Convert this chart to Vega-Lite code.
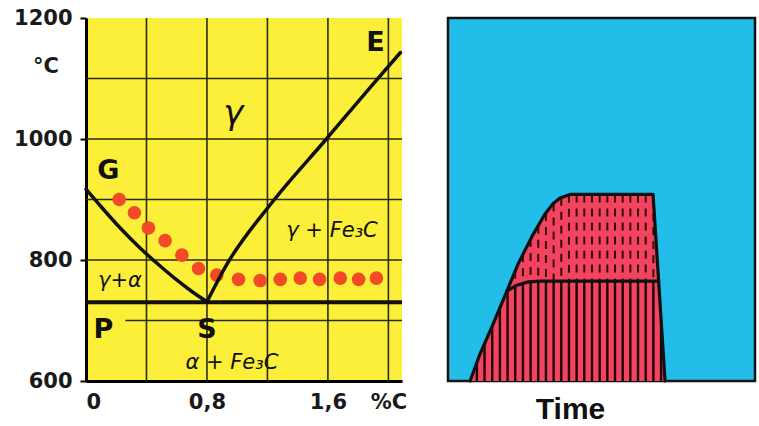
{
  "$schema": "https://vega.github.io/schema/vega-lite/v6.json",
  "padding": {"left": 13, "top": 7, "right": 0, "bottom": 0},
  "background": "white",
  "spacing": 46,
  "bounds": "flush",
  "config": {"view": {"stroke": null}},
  "hconcat": [
    {
      "width": 316,
      "height": 363,
      "view": {"fill": "#fcef3a", "stroke": null},
      "layer": [
        {
          "data": {"values": [
            {"c": 0.26, "c2": 2.09, "t": 700, "t2": 700},
            {"c": 0, "c2": 2.09, "t": 800, "t2": 800},
            {"c": 0, "c2": 2.09, "t": 900, "t2": 900},
            {"c": 0, "c2": 2.09, "t": 1000, "t2": 1000},
            {"c": 0, "c2": 2.09, "t": 1100, "t2": 1100},
            {"c": 0.4, "c2": 0.4, "t": 600, "t2": 1200},
            {"c": 0.8, "c2": 0.8, "t": 600, "t2": 1200},
            {"c": 1.2, "c2": 1.2, "t": 600, "t2": 1200},
            {"c": 1.6, "c2": 1.6, "t": 600, "t2": 1200},
            {"c": 2.0, "c2": 2.0, "t": 600, "t2": 1200}
          ]},
          "mark": {"type": "rule", "color": "#2a2a10", "strokeWidth": 1.6},
          "encoding": {
            "x": {"field": "c", "type": "quantitative", "title": null,
              "scale": {"domain": [0, 2.09], "nice": false, "zero": false},
              "axis": {"values": [0, 0.8, 1.6, 2.0], "labelExpr": "datum.value == 2 ? '%C' : (datum.value == 0 ? '0' : replace(datum.label, '.', ','))",
                "ticks": false, "grid": false, "domainColor": "black", "domainWidth": 3, "labelPadding": 10,
                "labelFont": "DejaVu Sans", "labelFontWeight": "bold", "labelFontSize": 21, "labelColor": "#1a1a1a"}},
            "x2": {"field": "c2"},
            "y": {"field": "t", "type": "quantitative", "title": null,
              "scale": {"domain": [600, 1200], "nice": false, "zero": false},
              "axis": {"values": [600, 800, 1000, 1200], "format": "d", "grid": false, "tickSize": 6, "tickWidth": 2, "tickColor": "black",
                "domainColor": "black", "domainWidth": 3, "labelPadding": 8,
                "labelFont": "DejaVu Sans", "labelFontWeight": "bold", "labelFontSize": 21, "labelColor": "#1a1a1a"}},
            "y2": {"field": "t2"}
          }
        },
        {
          "data": {"values": [
            {"c": 0.22, "t": 900}, {"c": 0.32, "t": 878}, {"c": 0.413, "t": 853},
            {"c": 0.523, "t": 832}, {"c": 0.634, "t": 808}, {"c": 0.744, "t": 786},
            {"c": 0.865, "t": 775}, {"c": 1.009, "t": 768}, {"c": 1.152, "t": 766},
            {"c": 1.285, "t": 768}, {"c": 1.417, "t": 770}, {"c": 1.545, "t": 768},
            {"c": 1.682, "t": 770}, {"c": 1.803, "t": 768}, {"c": 1.921, "t": 770}
          ]},
          "mark": {"type": "circle", "size": 185, "color": "#f24a26", "opacity": 1},
          "encoding": {
            "x": {"field": "c", "type": "quantitative", "title": null},
            "y": {"field": "t", "type": "quantitative", "title": null}
          }
        },
        {
          "data": {"values": [
            {"c": 0, "c2": 2.09, "t": 730, "t2": 730}
          ]},
          "mark": {"type": "rule", "color": "#111", "strokeWidth": 4},
          "encoding": {
            "x": {"field": "c", "type": "quantitative", "title": null},
            "x2": {"field": "c2"},
            "y": {"field": "t", "type": "quantitative", "title": null},
            "y2": {"field": "t2"}
          }
        },
        {
          "data": {"values": [
            {"seg": "GS", "c": 0, "t": 917}, {"seg": "GS", "c": 0.1, "t": 888},
            {"seg": "GS", "c": 0.2, "t": 860}, {"seg": "GS", "c": 0.3, "t": 834},
            {"seg": "GS", "c": 0.4, "t": 810}, {"seg": "GS", "c": 0.5, "t": 788},
            {"seg": "GS", "c": 0.6, "t": 767}, {"seg": "GS", "c": 0.7, "t": 748},
            {"seg": "GS", "c": 0.8, "t": 731},
            {"seg": "SE", "c": 0.8, "t": 731}, {"seg": "SE", "c": 0.92, "t": 788},
            {"seg": "SE", "c": 1.23, "t": 895}, {"seg": "SE", "c": 1.59, "t": 1000},
            {"seg": "SE", "c": 1.92, "t": 1097}, {"seg": "SE", "c": 2.08, "t": 1143}
          ]},
          "mark": {"type": "line", "color": "#111", "strokeWidth": 3.5, "strokeCap": "round", "strokeJoin": "round", "interpolate": "monotone"},
          "encoding": {
            "x": {"field": "c", "type": "quantitative", "title": null},
            "y": {"field": "t", "type": "quantitative", "title": null},
            "detail": {"field": "seg"}
          }
        },
        {
          "data": {"values": [
            {"label": "G", "c": 0.148, "t": 947},
            {"label": "E", "c": 1.914, "t": 1159},
            {"label": "P", "c": 0.115, "t": 685},
            {"label": "S", "c": 0.8, "t": 685}
          ]},
          "mark": {"type": "text", "font": "DejaVu Sans", "fontWeight": "bold", "fontSize": 27, "color": "#111", "baseline": "middle", "align": "center"},
          "encoding": {
            "x": {"field": "c", "type": "quantitative", "title": null},
            "y": {"field": "t", "type": "quantitative", "title": null},
            "text": {"field": "label"}
          }
        },
        {
          "data": {"values": [
            {"label": "°C", "c": -0.265, "t": 1119}
          ]},
          "mark": {"type": "text", "font": "DejaVu Sans", "fontWeight": "bold", "fontSize": 21, "color": "#1a1a1a", "baseline": "middle", "align": "center"},
          "encoding": {
            "x": {"field": "c", "type": "quantitative", "title": null},
            "y": {"field": "t", "type": "quantitative", "title": null},
            "text": {"field": "label"}
          }
        },
        {
          "data": {"values": [
            {"label": "γ", "c": 0.975, "t": 1041}
          ]},
          "mark": {"type": "text", "font": "DejaVu Sans", "fontStyle": "italic", "fontSize": 34, "color": "#111", "baseline": "middle", "align": "center"},
          "encoding": {
            "x": {"field": "c", "type": "quantitative", "title": null},
            "y": {"field": "t", "type": "quantitative", "title": null},
            "text": {"field": "label"}
          }
        },
        {
          "data": {"values": [
            {"label": "γ + Fe₃C", "c": 1.627, "t": 848},
            {"label": "γ+α", "c": 0.225, "t": 765},
            {"label": "α + Fe₃C", "c": 0.965, "t": 630}
          ]},
          "mark": {"type": "text", "font": "DejaVu Sans", "fontStyle": "italic", "fontSize": 21, "color": "#111", "baseline": "middle", "align": "center"},
          "encoding": {
            "x": {"field": "c", "type": "quantitative", "title": null},
            "y": {"field": "t", "type": "quantitative", "title": null},
            "text": {"field": "label"}
          }
        }
      ]
    },
    {
      "width": 307,
      "height": 363,
      "view": {"fill": "#22bde9", "stroke": "#111", "strokeWidth": 2.5},
      "layer": [
        {
          "data": {"values": [
            {"tx": 7.2, "hy": 0}, {"tx": 10.4, "hy": 7.4}, {"tx": 14.7, "hy": 15.7},
            {"tx": 19.2, "hy": 24.8}, {"tx": 22.8, "hy": 32.2}, {"tx": 27.4, "hy": 39.9},
            {"tx": 31.6, "hy": 46.0}, {"tx": 34.2, "hy": 48.8}, {"tx": 36.5, "hy": 50.4},
            {"tx": 39.7, "hy": 51.4}, {"tx": 66.8, "hy": 51.4}, {"tx": 70.7, "hy": 0}
          ]},
          "mark": {"type": "area", "color": "#f2445e", "opacity": 1},
          "encoding": {
            "x": {"field": "tx", "type": "quantitative", "title": "Time",
              "scale": {"domain": [0, 100], "nice": false, "zero": false},
              "axis": {"labels": false, "ticks": false, "domain": false, "grid": false,
                "titleFont": "Liberation Sans", "titleFontWeight": "bold", "titleFontSize": 30, "titleColor": "#111",
                "titlePadding": 13, "titleX": 122, "titleAlign": "center"}},
            "y": {"field": "hy", "type": "quantitative", "title": null,
              "scale": {"domain": [0, 100], "nice": false, "zero": false}, "axis": null},
            "y2": {"datum": 0}
          }
        },
        {
          "data": {"values": [
            {"tx": 9.4, "lo": 0, "hi": 5.1}, {"tx": 11.9, "lo": 0, "hi": 10.3},
            {"tx": 14.4, "lo": 0, "hi": 15.1}, {"tx": 16.9, "lo": 0, "hi": 20.1},
            {"tx": 19.4, "lo": 0, "hi": 24.9}, {"tx": 21.9, "lo": 0, "hi": 26.1},
            {"tx": 24.4, "lo": 0, "hi": 26.9}, {"tx": 26.9, "lo": 0, "hi": 27.35},
            {"tx": 29.4, "lo": 0, "hi": 27.5}, {"tx": 31.9, "lo": 0, "hi": 27.5},
            {"tx": 34.4, "lo": 0, "hi": 27.5}, {"tx": 36.9, "lo": 0, "hi": 27.5},
            {"tx": 39.4, "lo": 0, "hi": 27.5}, {"tx": 41.9, "lo": 0, "hi": 27.5},
            {"tx": 44.4, "lo": 0, "hi": 27.5}, {"tx": 46.9, "lo": 0, "hi": 27.5},
            {"tx": 49.4, "lo": 0, "hi": 27.5}, {"tx": 51.9, "lo": 0, "hi": 27.5},
            {"tx": 54.4, "lo": 0, "hi": 27.5}, {"tx": 56.9, "lo": 0, "hi": 27.5},
            {"tx": 59.4, "lo": 0, "hi": 27.5}, {"tx": 61.9, "lo": 0, "hi": 27.5},
            {"tx": 64.4, "lo": 0, "hi": 27.5}, {"tx": 66.9, "lo": 0, "hi": 27.5},
            {"tx": 69.4, "lo": 0, "hi": 17}
          ]},
          "mark": {"type": "rule", "color": "#1a0508", "strokeWidth": 2.4},
          "encoding": {
            "x": {"field": "tx", "type": "quantitative", "title": "Time"},
            "y": {"field": "lo", "type": "quantitative", "title": null},
            "y2": {"field": "hi"}
          }
        },
        {
          "data": {"values": [
            {"tx": 21.9, "lo": 26.1, "hi": 30.4}, {"tx": 24.4, "lo": 26.9, "hi": 34.9},
            {"tx": 26.9, "lo": 27.35, "hi": 39.1}, {"tx": 29.4, "lo": 27.5, "hi": 42.8},
            {"tx": 31.9, "lo": 27.5, "hi": 46.3}, {"tx": 34.4, "lo": 27.5, "hi": 48.9},
            {"tx": 36.9, "lo": 27.5, "hi": 50.5}, {"tx": 39.4, "lo": 27.5, "hi": 51.3},
            {"tx": 41.9, "lo": 27.5, "hi": 51.4}, {"tx": 44.4, "lo": 27.5, "hi": 51.4},
            {"tx": 46.9, "lo": 27.5, "hi": 51.4}, {"tx": 49.4, "lo": 27.5, "hi": 51.4},
            {"tx": 51.9, "lo": 27.5, "hi": 51.4}, {"tx": 54.4, "lo": 27.5, "hi": 51.4},
            {"tx": 56.9, "lo": 27.5, "hi": 51.4}, {"tx": 59.4, "lo": 27.5, "hi": 51.4},
            {"tx": 61.9, "lo": 27.5, "hi": 51.4}, {"tx": 64.4, "lo": 27.5, "hi": 51.4},
            {"tx": 66.9, "lo": 27.5, "hi": 50.1}
          ]},
          "mark": {"type": "rule", "color": "#3a0a12", "strokeWidth": 2, "strokeDash": [8, 6]},
          "encoding": {
            "x": {"field": "tx", "type": "quantitative", "title": "Time"},
            "y": {"field": "hi", "type": "quantitative", "title": null},
            "y2": {"field": "lo"}
          }
        },
        {
          "data": {"values": [
            {"seg": "outer", "tx": 7.2, "hy": 0}, {"seg": "outer", "tx": 10.4, "hy": 7.4},
            {"seg": "outer", "tx": 14.7, "hy": 15.7}, {"seg": "outer", "tx": 19.2, "hy": 24.8},
            {"seg": "outer", "tx": 22.8, "hy": 32.2}, {"seg": "outer", "tx": 27.4, "hy": 39.9},
            {"seg": "outer", "tx": 31.6, "hy": 46.0}, {"seg": "outer", "tx": 34.2, "hy": 48.8},
            {"seg": "outer", "tx": 36.5, "hy": 50.4}, {"seg": "outer", "tx": 39.7, "hy": 51.4},
            {"seg": "outer", "tx": 66.8, "hy": 51.4}, {"seg": "outer", "tx": 70.7, "hy": 0},
            {"seg": "inner", "tx": 19.2, "hy": 24.8}, {"seg": "inner", "tx": 22.5, "hy": 26.4},
            {"seg": "inner", "tx": 26.1, "hy": 27.3}, {"seg": "inner", "tx": 30.0, "hy": 27.5},
            {"seg": "inner", "tx": 68.6, "hy": 27.5}
          ]},
          "mark": {"type": "line", "color": "#111", "strokeWidth": 3.2, "strokeJoin": "round", "strokeCap": "round"},
          "encoding": {
            "x": {"field": "tx", "type": "quantitative", "title": "Time"},
            "y": {"field": "hy", "type": "quantitative", "title": null},
            "detail": {"field": "seg"}
          }
        }
      ]
    }
  ]
}
